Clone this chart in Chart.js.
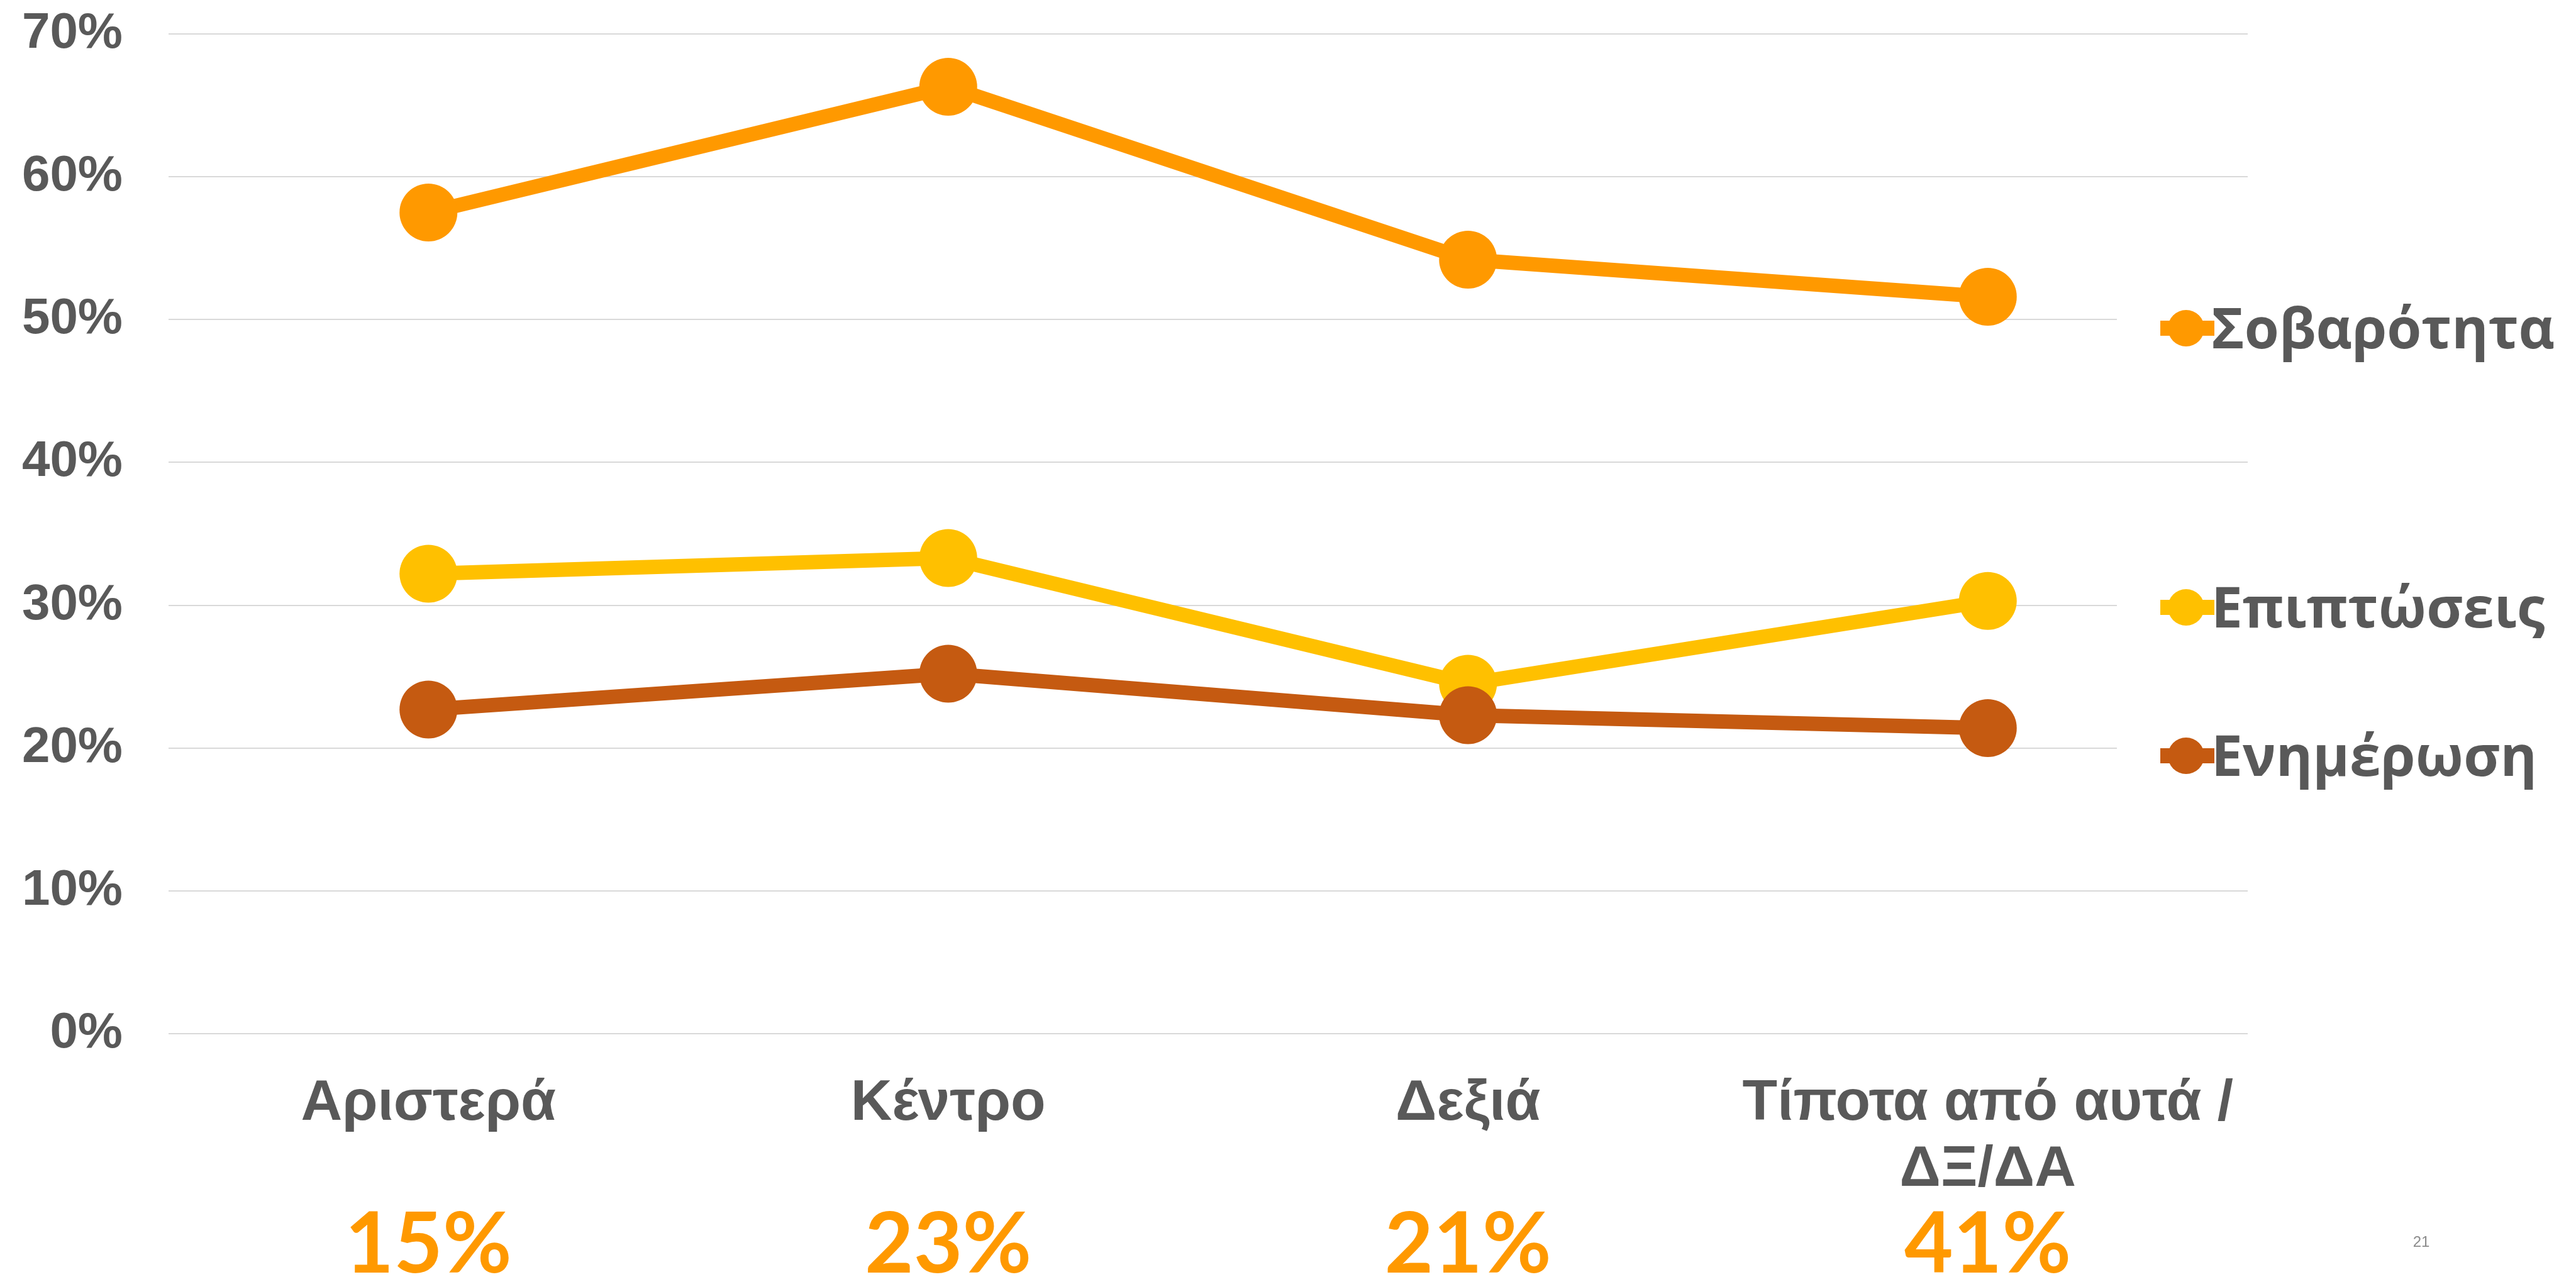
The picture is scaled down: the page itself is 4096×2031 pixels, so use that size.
<!DOCTYPE html>
<html>
<head>
<meta charset="utf-8">
<script src="https://cdn.jsdelivr.net/npm/chart.js@4/dist/chart.umd.min.js"></script>
<style>
  html, body { margin: 0; padding: 0; background: #ffffff; }
  #wrap { width: 4096px; height: 2031px; position: relative; }
</style>
</head>
<body>
<div id="wrap"><canvas id="c" width="4096" height="2031"></canvas></div>
<script>
// ---- Data ----
const categories = ["Αριστερά", "Κέντρο", "Δεξιά", ["Τίποτα από αυτά /", "ΔΞ/ΔΑ"]];
const categoryShares = [15, 23, 21, 41];
const seriesNames = ["Σοβαρότητα", "Επιπτώσεις", "Ενημέρωση"];
const sovarotita = [57.5, 66.3, 54.2, 51.6];
const epiptoseis = [32.2, 33.3, 24.5, 30.3];
const enimerosi = [22.7, 25.2, 22.3, 21.4];
const yTicks = [0, 10, 20, 30, 40, 50, 60, 70];
const pageNumber = "21";

// ---- Styles ----
const seriesColors = ["#FF9900", "#FFC000", "#C55A11"];
const textGray = "#595959";

const seriesValues = [sovarotita, epiptoseis, enimerosi];
const datasets = seriesValues.map((vals, i) => ({
  label: seriesNames[i],
  data: vals,
  borderColor: seriesColors[i],
  backgroundColor: seriesColors[i],
  pointBackgroundColor: seriesColors[i],
  pointBorderWidth: 0,
  pointRadius: 46,
  pointHoverRadius: 46,
  borderWidth: 23,
  tension: 0,
  fill: false,
  clip: false,
  order: 2 - i
}));

const legendY = [554, 998, 1234]; // text baselines

const extrasPlugin = {
  id: 'extras',
  afterDraw(chart) {
    const ctx = chart.ctx;
    const xs = chart.scales.x;
    ctx.save();
    // custom legend
    ctx.font = "bold 89px 'Open Sans'";
    ctx.textBaseline = 'alphabetic';
    ctx.textAlign = 'left';
    seriesNames.forEach((name, i) => {
      const by = legendY[i];
      const cy = by - 32;
      ctx.fillStyle = '#ffffff';
      ctx.fillRect(3366, cy - 48, 4096 - 3366, 96);
      ctx.strokeStyle = seriesColors[i];
      ctx.lineWidth = 24;
      ctx.beginPath();
      ctx.moveTo(3435, cy);
      ctx.lineTo(3521, cy);
      ctx.stroke();
      ctx.fillStyle = seriesColors[i];
      ctx.beginPath();
      ctx.arc(3476, cy, 29, 0, Math.PI * 2);
      ctx.fill();
      ctx.fillStyle = textGray;
      ctx.fillText(name, 3516, by);
    });
    // shares under categories
    ctx.font = "bold 134px Lato";
    ctx.fillStyle = "#FF9900";
    ctx.textAlign = 'center';
    categoryShares.forEach((v, i) => {
      ctx.fillText(v + "%", xs.getPixelForValue(i), 2024);
    });
    // page number
    ctx.font = "24px 'Liberation Sans'";
    ctx.fillStyle = "#8c8c8c";
    ctx.fillText(pageNumber, 3850, 1983);
    ctx.restore();
  }
};

new Chart(document.getElementById('c'), {
  type: 'line',
  data: { labels: categories, datasets: datasets },
  options: {
    responsive: false,
    animation: false,
    devicePixelRatio: 1,
    layout: { padding: { left: 0, top: 54, right: 522, bottom: 0 } },
    plugins: { legend: { display: false }, tooltip: { enabled: false } },
    scales: {
      x: {
        offset: true,
        grid: { display: false, drawTicks: false },
        border: { display: false },
        ticks: {
          color: textGray,
          font: { family: "'Liberation Sans', Arial", weight: 'bold', size: 91, lineHeight: 1.16 },
          padding: 59,
          maxRotation: 0,
          autoSkip: false
        },
        afterFit(s) { s.height = 387; s.paddingLeft = 0; s.paddingRight = 0; }
      },
      y: {
        min: 0,
        max: 70,
        afterBuildTicks(s) { s.ticks = yTicks.map(v => ({ value: v })); },
        grid: { color: '#D9D9D9', lineWidth: 2, drawTicks: false },
        border: { display: false },
        ticks: {
          color: textGray,
          font: { family: "'Liberation Sans', Arial", weight: 'bold', size: 80 },
          padding: 73,
          callback: v => v + '%'
        },
        afterFit(s) { s.width = 268; s.paddingTop = 0; s.paddingBottom = 0; }
      }
    }
  },
  plugins: [extrasPlugin]
});
</script>
</body>
</html>
